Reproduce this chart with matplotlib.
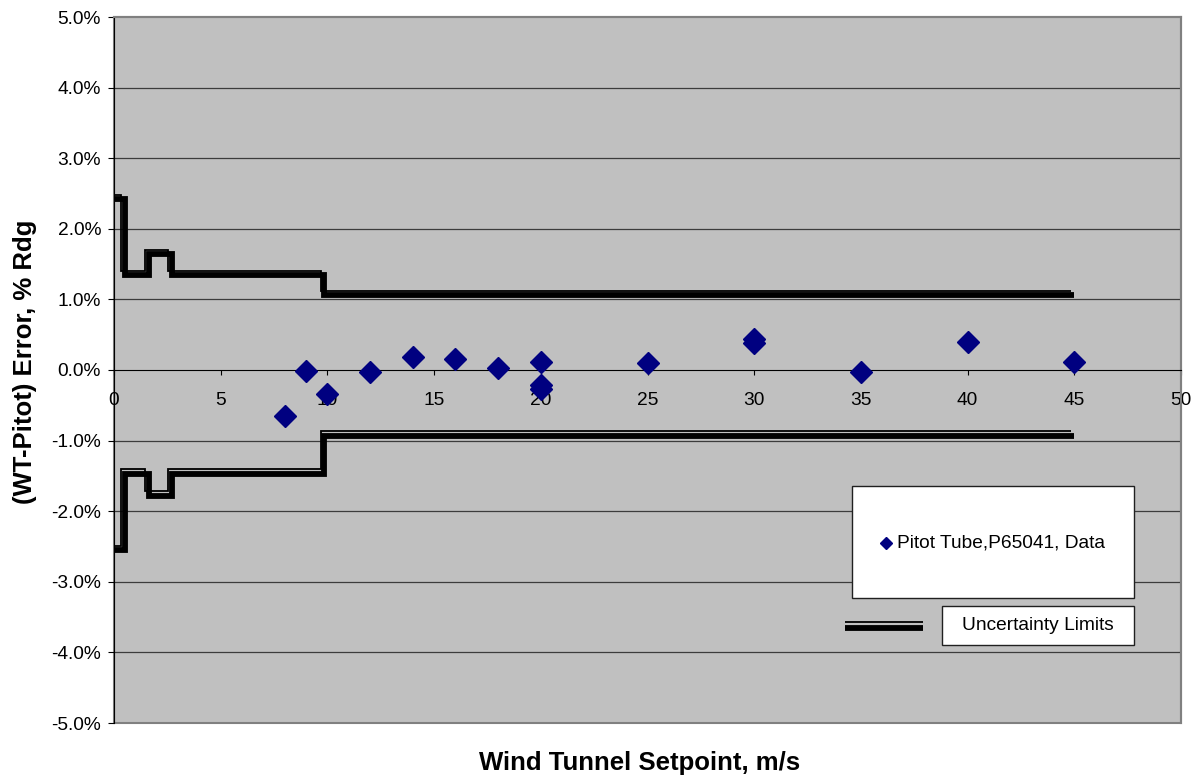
import matplotlib
matplotlib.use("Agg")
import matplotlib.pyplot as plt
import matplotlib.transforms as mtransforms
from matplotlib.patches import Rectangle
from matplotlib.lines import Line2D

plt.rcParams['font.family'] = ['Liberation Sans', 'DejaVu Sans']

# --- datos ---
setpoint = [8, 9, 10, 12, 14, 16, 18, 20, 20, 20, 25, 30, 30, 35, 40, 45]
error_pct = [-0.65, -0.01, -0.34, -0.03, 0.18, 0.16, 0.03, 0.11, -0.21, -0.27,
             0.10, 0.44, 0.38, -0.03, 0.39, 0.11]

limit_x = [0, 0.5, 1.63, 2.7, 9.85, 45]
limit_upper = [2.42, 1.34, 1.64, 1.34, 1.06, 1.06]
limit_lower = [-2.55, -1.47, -1.78, -1.47, -0.93, -0.93]

x_ticks = list(range(0, 51, 5))
y_ticks = [-5, -4, -3, -2, -1, 0, 1, 2, 3, 4, 5]

W, H = 1202, 781
fig = plt.figure(figsize=(W / 100, H / 100), dpi=100)
ax = fig.add_axes([114 / W, 1 - 723 / H, (1181 - 114) / W, (723 - 17) / H])
ax.set_facecolor('#c0c0c0')
ax.set_xlim(0, 50)
ax.set_ylim(-5, 5)

# rejilla
for y in y_ticks:
    if y not in (-5, 0, 5):
        ax.axhline(y, color='#3c3c3c', lw=0.9, zorder=1)

# limites de incertidumbre (linea doble)
thin_tr = mtransforms.offset_copy(ax.transData, fig=fig, x=-3.5, y=4.5, units='dots')
for lim in (limit_upper, limit_lower):
    ax.plot(limit_x, lim, drawstyle='steps-post', color='black', lw=4.2,
            solid_joinstyle='miter', solid_capstyle='butt', zorder=3)
    ax.plot(limit_x, lim, drawstyle='steps-post', color='black', lw=1.3,
            solid_joinstyle='miter', solid_capstyle='butt', transform=thin_tr, zorder=3)

ax.plot(setpoint, error_pct, linestyle='none', marker='D', ms=11.5,
        color='#000080', zorder=4, clip_on=False)

# ejes
for s in ('top', 'right'):
    ax.spines[s].set_color('#808080')
    ax.spines[s].set_linewidth(1.5)
ax.spines['left'].set_color('black')
ax.spines['bottom'].set_position(('data', 0))
ax.spines['bottom'].set_color('black')
ax.add_patch(Rectangle((0, 0), 1, 1, transform=ax.transAxes, fill=False,
                       edgecolor='#808080', lw=1.5, zorder=0.5, clip_on=False))

ax.set_xticks(x_ticks)
ax.set_xticklabels([str(v) for v in x_ticks])
ax.set_yticks(y_ticks)
ax.set_yticklabels([f'{v:.1f}%' for v in y_ticks])
ax.tick_params(axis='x', direction='out', length=3.6, pad=12, labelsize=13.8)
ax.tick_params(axis='y', direction='out', length=4.3, pad=5, labelsize=13.8)

fig.text(640 / W, 1 - 763 / H, 'Wind Tunnel Setpoint, m/s', ha='center', va='center',
         fontsize=18.5, fontweight='bold')
fig.text(25 / W, 1 - 362 / H, '(WT-Pitot) Error, % Rdg', ha='center', va='center',
         rotation=90, fontsize=18.5, fontweight='bold')

# leyenda (dos cajas)
def px_rect(x0, y0, x1, y1):
    fig.add_artist(Rectangle((x0 / W, 1 - y1 / H), (x1 - x0) / W, (y1 - y0) / H,
                             transform=fig.transFigure, facecolor='white',
                             edgecolor='#202020', lw=1.0))

px_rect(852, 486, 1134, 598)
px_rect(942, 606, 1134, 645)
fig.add_artist(Line2D([886 / W], [1 - 543 / H], marker='D', ms=6.5, color='#000080',
                      transform=fig.transFigure))
fig.text(897 / W, 1 - 543 / H, 'Pitot Tube,P65041, Data', ha='left', va='center', fontsize=13.8)
fig.add_artist(Line2D([845 / W, 923 / W], [1 - 627.5 / H] * 2, lw=4.2, color='black',
                      solid_capstyle='butt', transform=fig.transFigure))
fig.add_artist(Line2D([845 / W, 923 / W], [1 - 622 / H] * 2, lw=1.3, color='black',
                      solid_capstyle='butt', transform=fig.transFigure))
fig.text(1038 / W, 1 - 626 / H, 'Uncertainty Limits', ha='center', va='center', fontsize=13.8)

fig.savefig('out.png', dpi=100)
